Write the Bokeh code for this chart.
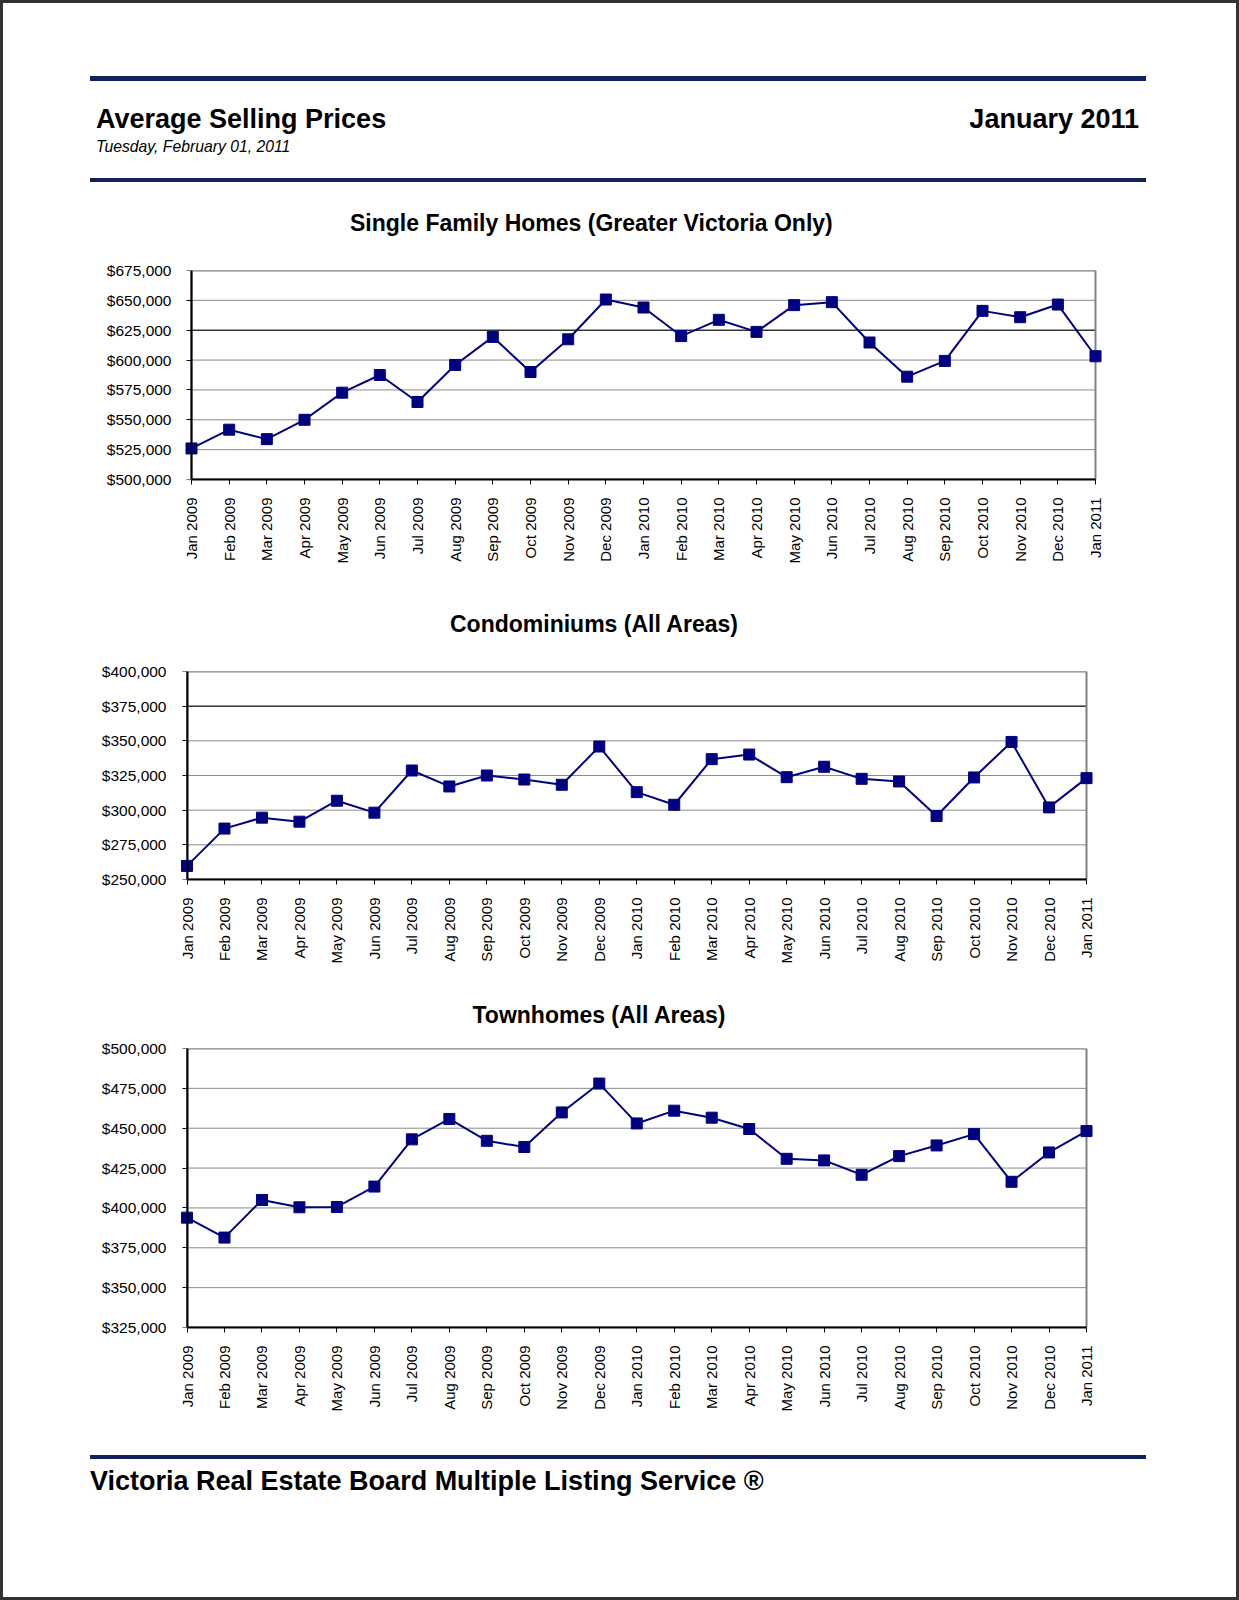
import math
from bokeh.plotting import figure
from bokeh.layouts import column
from bokeh.models import (Range1d, FixedTicker, NumeralTickFormatter, BoxAnnotation,
                          LinearAxis, Div)
from bokeh.embed import file_html
from bokeh.resources import INLINE

# ---------------- data ----------------
months = ["Jan 2009", "Feb 2009", "Mar 2009", "Apr 2009", "May 2009", "Jun 2009",
          "Jul 2009", "Aug 2009", "Sep 2009", "Oct 2009", "Nov 2009", "Dec 2009",
          "Jan 2010", "Feb 2010", "Mar 2010", "Apr 2010", "May 2010", "Jun 2010",
          "Jul 2010", "Aug 2010", "Sep 2010", "Oct 2010", "Nov 2010", "Dec 2010",
          "Jan 2011"]

single_family = [526000, 541700, 533800, 550000, 572700, 587500, 564900, 595900,
                 619400, 590000, 617400, 650700, 644000, 620100, 633700, 623600,
                 646000, 648500, 614700, 586100, 599300, 641200, 635900, 646500,
                 603200]
condominiums = [259800, 286700, 294600, 291700, 306800, 298200, 328600, 317100,
                325000, 322100, 318300, 345900, 313000, 303900, 336800, 340100,
                323800, 331300, 322600, 320700, 295800, 323600, 349200, 302000,
                323100]
townhomes = [393900, 381400, 405000, 400400, 400600, 413400, 443000, 455800,
             442100, 438200, 459900, 478000, 453000, 461000, 456600, 449500,
             430800, 429800, 420800, 432500, 439200, 446300, 416400, 434800,
             448200]

sf_ticks = [500000, 525000, 550000, 575000, 600000, 625000, 650000, 675000]
condo_ticks = [250000, 275000, 300000, 325000, 350000, 375000, 400000]
town_ticks = [325000, 350000, 375000, 400000, 425000, 450000, 475000, 500000]

titles = ["Single Family Homes (Greater Victoria Only)",
          "Condominiums (All Areas)",
          "Townhomes (All Areas)"]

FONT = "Liberation Sans"
NAVY = "#000080"
BAR = "#14205c"
PAGE_W = 1239
FL, FR = 174, 1107   # common plot frame (screen px), padded around the plot area


# ---------------- html helpers (header / titles / footer) ----------------
def txt(x, baseline, s, size, weight="bold", style="normal", align="left"):
    top = baseline - 0.8465 * size
    pos = f"left:{x}px;" if align == "left" else f"right:{PAGE_W - x}px;"
    return (f'<div style="position:absolute;{pos}top:{top:.1f}px;'
            f"font-family:'{FONT}';font-size:{size}px;font-weight:{weight};"
            f'font-style:{style};line-height:{size}px;white-space:nowrap;color:#000">{s}</div>')


def bar(top, h):
    return (f'<div style="position:absolute;left:90px;top:{top}px;width:1056px;'
            f'height:{h}px;background:{BAR}"></div>')


def html_block(h, parts):
    inner = "".join(parts)
    return Div(text=f'<div style="position:relative;width:{PAGE_W}px;height:{h}px">{inner}</div>',
               width=PAGE_W, height=h, margin=0)


# ---------------- charts ----------------
def chart(vals, ticks, height, X0, X1, top, fh, label_end, dark_line=None):
    n = len(months) - 1
    u = (X1 - X0) / n
    xs = (FL - X0) / u
    xe = n + (FR - X1) / u
    p = figure(width=PAGE_W, height=height,
               x_range=Range1d(xs, xe), y_range=Range1d(ticks[0], ticks[-1]),
               output_backend="svg", toolbar_location=None,
               min_border_left=FL, min_border_right=PAGE_W - FR,
               min_border_top=top, min_border_bottom=height - top - fh)
    p.border_fill_color = None
    p.outline_line_color = None
    p.xgrid.visible = False
    p.ygrid.visible = False

    # horizontal gridlines confined to the plot area (x from first to last month)
    k = len(ticks)
    p.segment(x0=[0] * k, x1=[n] * k, y0=ticks, y1=ticks,
              line_color="#8c8c8c", line_width=1, level="underlay")
    if dark_line is not None:
        p.segment(x0=[0], x1=[n], y0=[dark_line], y1=[dark_line],
                  line_color="#000000", line_width=1, level="underlay")

    p.add_layout(BoxAnnotation(left=0, right=n, bottom=ticks[0], top=ticks[-1],
                               fill_color=None, fill_alpha=0, line_color="#808080",
                               line_alpha=1, line_width=2, level="underlay"))

    # x axis
    xa = p.xaxis[0]
    xa.ticker = FixedTicker(ticks=list(range(len(months))))
    xa.major_label_overrides = {i: m for i, m in enumerate(months)}
    xa.major_label_orientation = math.pi / 2
    xa.bounds = (0, n)
    xa.axis_line_color = "#000"
    xa.axis_line_width = 2
    xa.major_tick_line_color = "#000"
    xa.major_tick_in = 0
    xa.major_tick_out = 5
    xa.minor_tick_line_color = None
    xa.major_label_text_font = FONT
    xa.major_label_text_font_size = "15px"
    xa.major_label_text_color = "#000"
    xa.major_label_standoff = 13

    # y axis: labels only (at frame edge)
    ya = p.yaxis[0]
    ya.ticker = FixedTicker(ticks=ticks)
    ya.formatter = NumeralTickFormatter(format="$0,0")
    ya.axis_line_color = None
    ya.major_tick_line_color = None
    ya.major_tick_in = 0
    ya.major_tick_out = 0
    ya.minor_tick_line_color = None
    ya.minor_tick_out = 0
    ya.major_label_text_font = FONT
    ya.major_label_text_font_size = "15.5px"
    ya.major_label_text_color = "#000"
    ya.major_label_standoff = int(round(FL - label_end))

    # y axis line + ticks at x = 0
    ya2 = LinearAxis(ticker=FixedTicker(ticks=ticks), fixed_location=0,
                     axis_line_color="#000", axis_line_width=2,
                     major_tick_line_color="#000", major_tick_in=0, major_tick_out=5,
                     minor_tick_line_color=None, major_label_text_color=None,
                     major_label_text_font_size="1px", major_label_standoff=0)
    p.add_layout(ya2, "left")

    x = list(range(len(months)))
    p.line(x, vals, line_color=NAVY, line_width=2)
    p.scatter(x, vals, marker="square", size=11, fill_color=NAVY, line_color=NAVY)
    return p


# layout (screen px): header 0-250 | c1 250-590 | t2 590-650 | c2 650-985 | t3 985-1035 | c3 1035-1420 | footer 1420-1600
header = html_block(250, [
    bar(75.5, 5), bar(177.5, 4.5),
    txt(96, 128.5, "Average Selling Prices", 27),
    txt(1139, 128.5, "January 2011", 27, align="right"),
    txt(96, 152.5, "Tuesday, February 01, 2011", 15.75, weight="normal", style="italic"),
    txt(350, 231.5, titles[0], 23),
])
c1 = chart(single_family, sf_ticks, 340, 191, 1095, 20, 209, 171, dark_line=625000)
t2 = html_block(60, [txt(450, 42.8, titles[1], 23)])
c2 = chart(condominiums, condo_ticks, 335, 186.5, 1086, 21, 208, 166, dark_line=375000)
t3 = html_block(50, [txt(472.5, 38.7, titles[2], 23)])
c3 = chart(townhomes, town_ticks, 385, 186.5, 1086, 13, 279, 166)
footer = html_block(180, [
    bar(34.5, 4),
    txt(90, 70.5, "Victoria Real Estate Board Multiple Listing Service \u00ae", 27),
])

page = column(header, c1, t2, c2, t3, c3, footer, spacing=0)
page.styles = {"outline": "3px solid #333333", "outline-offset": "-3px"}

open("out.html", "w").write(file_html(page, INLINE))
